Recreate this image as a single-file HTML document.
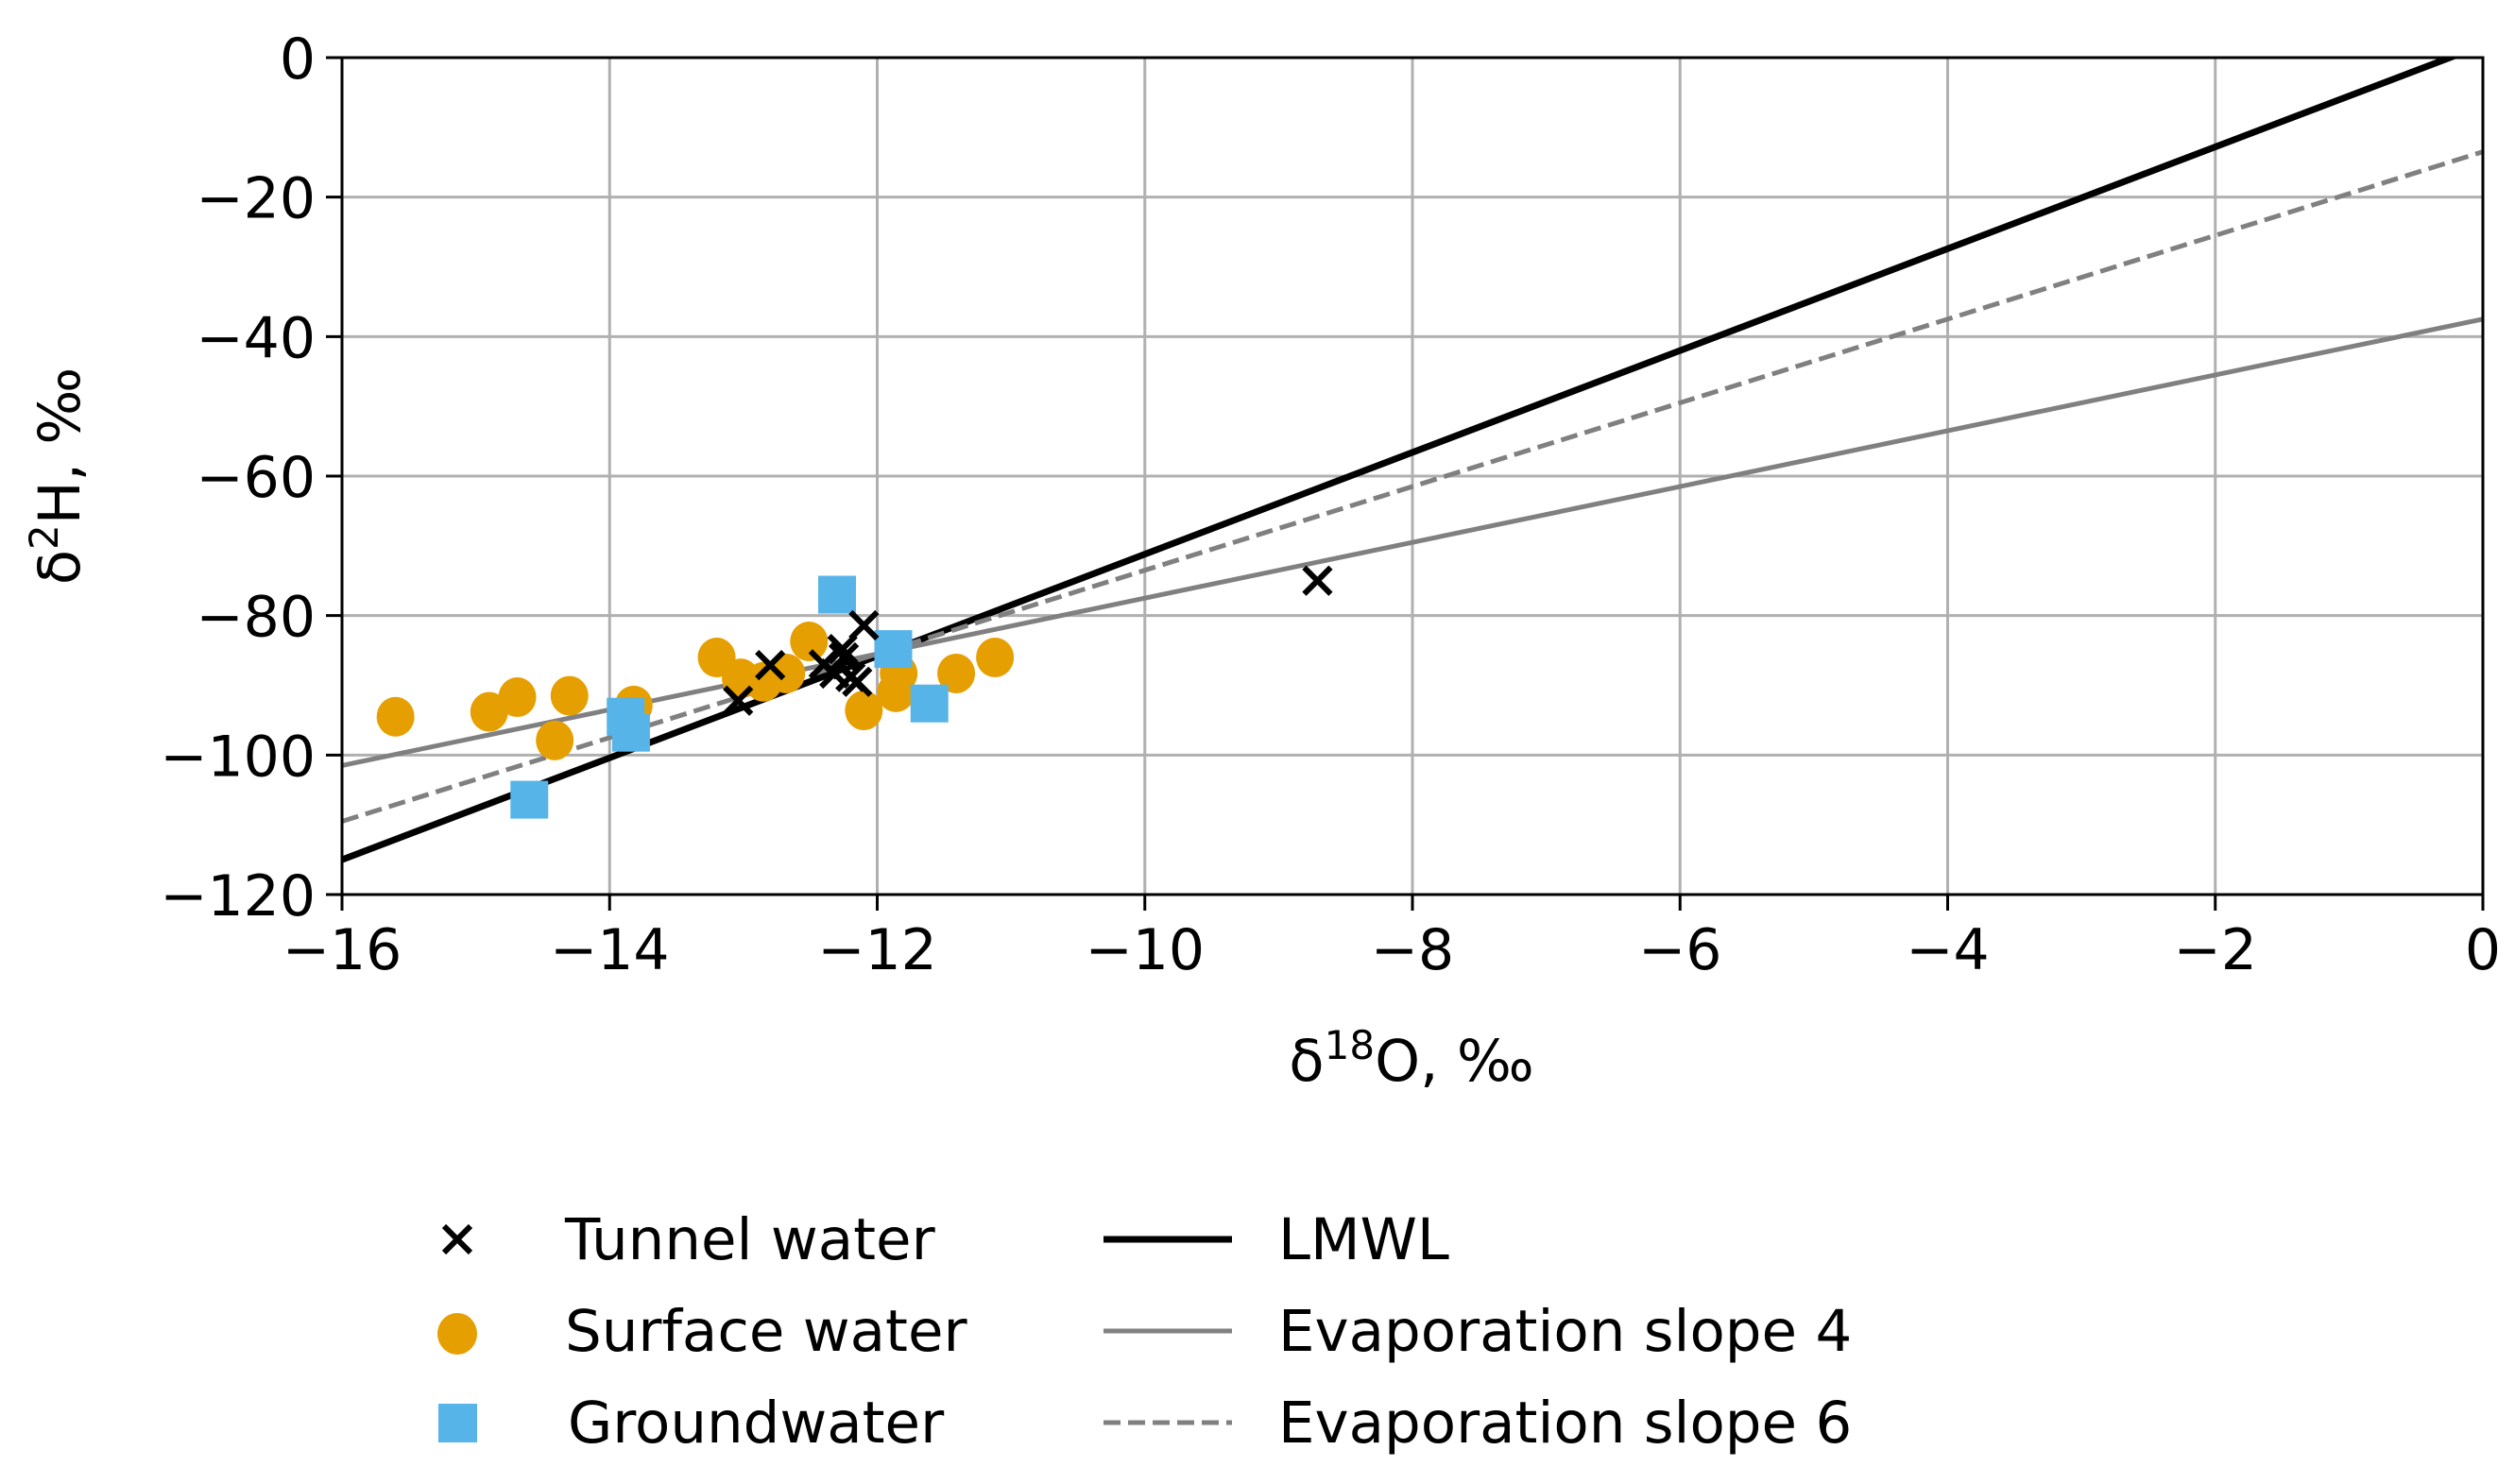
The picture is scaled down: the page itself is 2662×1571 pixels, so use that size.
<!DOCTYPE html>
<html><head><meta charset="utf-8"><style>
html,body{margin:0;padding:0;background:#fff;}
svg{display:block;font-family:"DejaVu Sans","Liberation Sans",sans-serif;}
</style></head><body>
<svg id="chart" width="2662" height="1571" viewBox="0 0 2662 1571" xmlns="http://www.w3.org/2000/svg">
<g id="grid"></g>
<g id="lines"></g>
<g id="points"></g>
<g id="axes"></g>
<text x="1494" y="1144" font-size="61" text-anchor="middle">δ<tspan font-size="42" dy="-23">18</tspan><tspan dy="23">O, ‰</tspan></text>
<text transform="translate(84,504) rotate(-90)" font-size="61" text-anchor="middle">δ<tspan font-size="42" dy="-23">2</tspan><tspan dy="23">H, ‰</tspan></text>
<g id="legend">
  <g>
    <path d="M470,1298 L498,1326 M498,1298 L470,1326" stroke="#000" stroke-width="6"/>
    <text x="598" y="1333" font-size="61">Tunnel water</text>
  </g>
  <g>
    <ellipse cx="484" cy="1412" rx="21" ry="22" fill="#E69F00"/>
    <text x="598" y="1430" font-size="61">Surface water</text>
  </g>
  <g>
    <rect x="464" y="1486" width="41" height="41" fill="#56B4E9"/>
    <text x="601" y="1527" font-size="61">Groundwater</text>
  </g>
  <g>
    <line x1="1168" y1="1312" x2="1304" y2="1312" stroke="#000" stroke-width="7"/>
    <text x="1353" y="1333" font-size="61">LMWL</text>
  </g>
  <g>
    <line x1="1168" y1="1409" x2="1304" y2="1409" stroke="#808080" stroke-width="5"/>
    <text x="1353" y="1430" font-size="61">Evaporation slope 4</text>
  </g>
  <g>
    <line x1="1168" y1="1506" x2="1304" y2="1506" stroke="#808080" stroke-width="5" stroke-dasharray="18,8"/>
    <text x="1353" y="1527" font-size="61">Evaporation slope 6</text>
  </g>
</g>
</svg>
<script>
const xTicks = [-16,-14,-12,-10,-8,-6,-4,-2,0];
const yTicks = [0,-20,-40,-60,-80,-100,-120];
const surfaceX = [-15.60,-14.90,-14.69,-14.30,-14.41,-13.82,-13.20,-13.02,-12.68,-12.51,-12.10,-11.86,-11.84,-11.41,-11.12,-12.85];
const surfaceY = [-94.5,-93.8,-91.7,-91.5,-97.9,-92.9,-86.0,-89.0,-88.3,-83.7,-93.6,-91.0,-88.3,-88.3,-86.0,-89.5];
const groundX = [-12.30,-11.88,-11.61,-13.84,-14.60,-13.88];
const groundY = [-77.0,-84.8,-92.6,-96.8,-106.4,-94.5];
const tunnelX = [-8.71,-12.10,-12.26,-12.32,-12.20,-12.15,-13.04,-12.80,-12.40,-12.25];
const tunnelY = [-75.0,-81.4,-84.8,-88.3,-88.8,-89.5,-92.2,-87.1,-87.0,-86.0];
const lineSlopes = [7.3, 4, 6];
const lineIntercepts = [1.8, -37.5, -13.5];

const L=362,R=2628,T=61,B=947;
const X0=-16,X1=0,Y0=-120,Y1=0;
const sx=v=>L+(v-X0)/(X1-X0)*(R-L);
const sy=v=>B-(v-Y0)/(Y1-Y0)*(B-T);
const NS="http://www.w3.org/2000/svg";
function mk(tag,attrs,parent){const e=document.createElementNS(NS,tag);for(const k in attrs)e.setAttribute(k,attrs[k]);parent.appendChild(e);return e;}
const grid=document.getElementById('grid'),axes=document.getElementById('axes'),lines=document.getElementById('lines'),pts=document.getElementById('points');

xTicks.forEach(t=>{
  const g=mk('line',{x1:sx(t),x2:sx(t),y1:T,y2:B,stroke:'#b0b0b0','stroke-width':3},grid);
  
  
  const tk=mk('line',{x1:sx(t),x2:sx(t),y1:B,y2:B+17,stroke:'#000','stroke-width':3},axes);
  
  
  const lb=mk('text',{x:sx(t),y:B+79,'font-size':60,'text-anchor':'middle'},axes);
  lb.textContent=t<0?'\u2212'+Math.abs(t):String(t);
  
  
});
yTicks.forEach(t=>{
  const g=mk('line',{x1:L,x2:R,y1:sy(t),y2:sy(t),stroke:'#b0b0b0','stroke-width':3},grid);
  
  
  const tk=mk('line',{x1:L-17,x2:L,y1:sy(t),y2:sy(t),stroke:'#000','stroke-width':3},axes);
  
  
  const lb=mk('text',{x:L-28,y:sy(t)+22,'font-size':60,'text-anchor':'end'},axes);
  lb.textContent=t<0?'\u2212'+Math.abs(t):String(t);
  
  
});
const frame=mk('rect',{x:L,y:T,width:R-L,height:B-T,fill:'none',stroke:'#000','stroke-width':3},axes);



const styles=[{s:'#000',w:7,d:''},{s:'#808080',w:5,d:''},{s:'#808080',w:5,d:'18,8'}];
const lnames=['lmwl-line','evaporation-slope-4-line','evaporation-slope-6-line'];
const clip=mk('clipPath',{id:'pc'},document.getElementById('chart'));
mk('rect',{x:L,y:T,width:R-L,height:B-T},clip);
lineSlopes.forEach((m,i)=>{
  const b=lineIntercepts[i];
  const l=mk('line',{x1:sx(X0),y1:sy(m*X0+b),x2:sx(X1),y2:sy(m*X1+b),stroke:styles[i].s,'stroke-width':styles[i].w,'clip-path':'url(#pc)'},lines);
  if(styles[i].d)l.setAttribute('stroke-dasharray',styles[i].d);
  
  
});
surfaceX.forEach((x,i)=>{
  const c=mk('ellipse',{cx:sx(x),cy:sy(surfaceY[i]),rx:20,ry:21,fill:'#E69F00'},pts);
  
  
});
groundX.forEach((x,i)=>{
  const r=mk('rect',{x:sx(x)-20,y:sy(groundY[i])-20,width:40,height:40,fill:'#56B4E9'},pts);
  
  
});
tunnelX.forEach((x,i)=>{
  const cx=sx(x),cy=sy(tunnelY[i]),h=14;
  const p=mk('path',{d:`M${cx-h},${cy-h}L${cx+h},${cy+h}M${cx+h},${cy-h}L${cx-h},${cy+h}`,stroke:'#000','stroke-width':6},pts);
  
  
});
</script>
</body></html>
